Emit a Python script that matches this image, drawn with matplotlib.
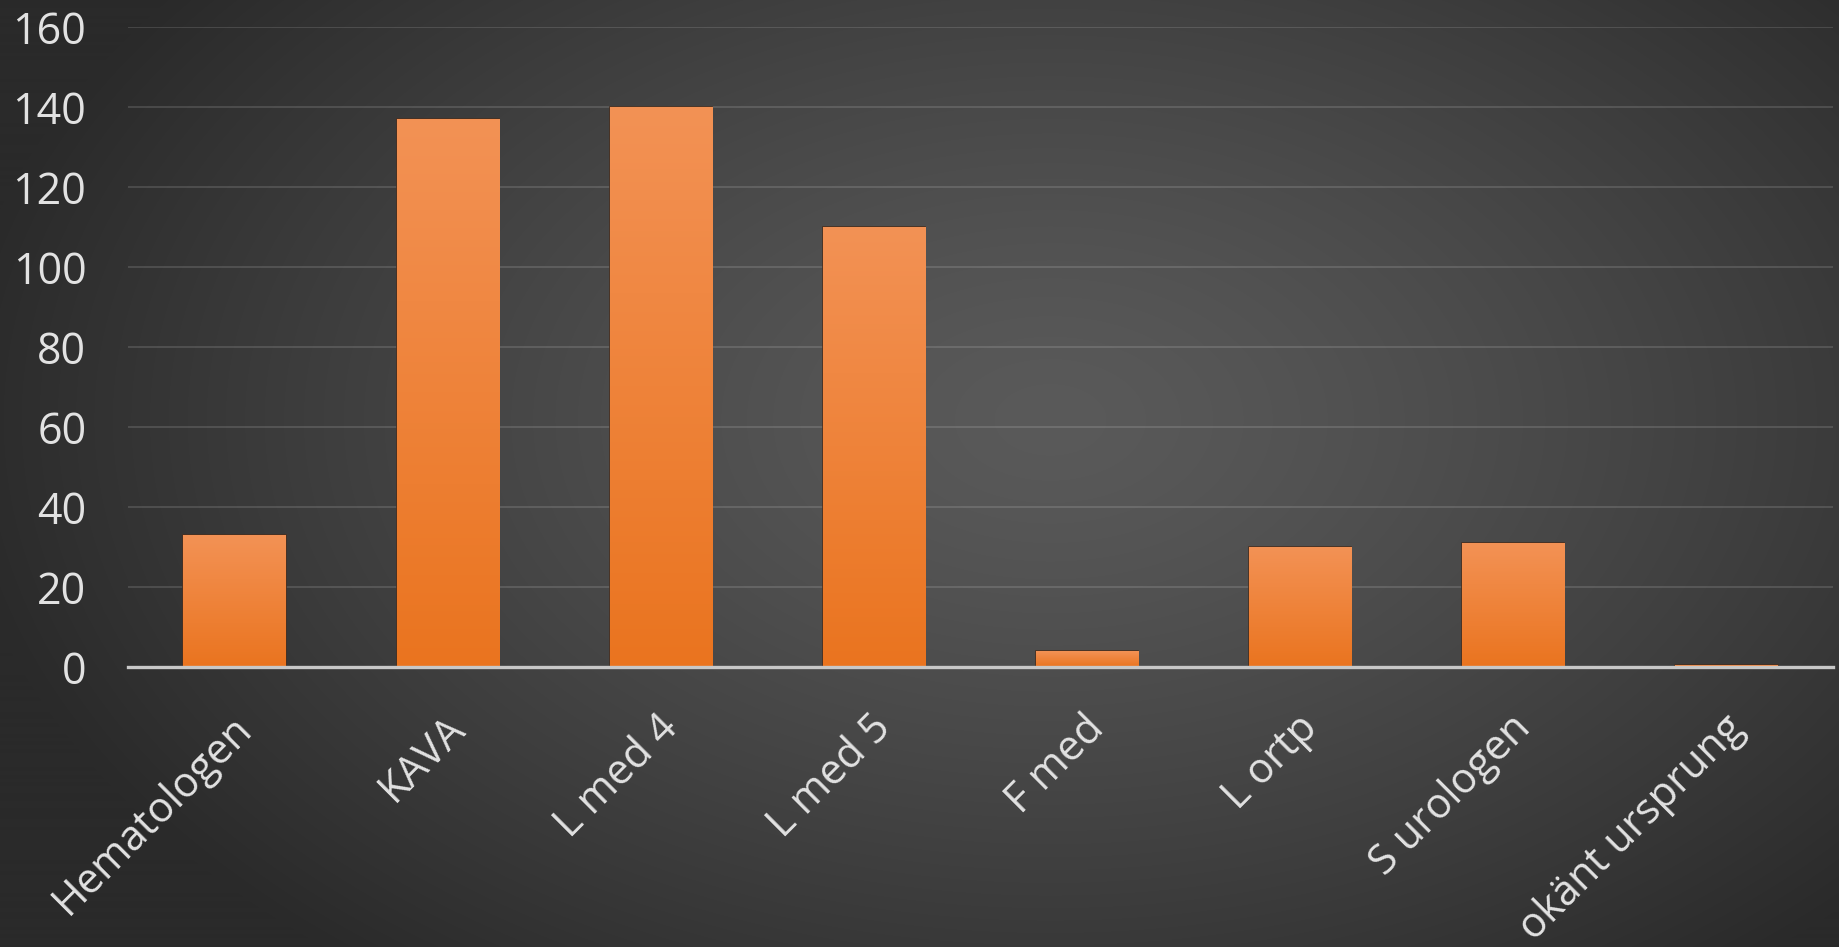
import numpy as np
import matplotlib
matplotlib.use("Agg")
import matplotlib.pyplot as plt
from matplotlib.transforms import ScaledTranslation

categories = ["Hematologen", "KAVA", "L med 4", "L med 5", "F med", "L ortp", "S urologen", "okänt ursprung"]
values = [33, 137, 140, 110, 4, 30, 31, 0.5]
yticks = [0, 20, 40, 60, 80, 100, 120, 140, 160]

plt.rcParams['font.family'] = ['Open Sans', 'DejaVu Sans']

W, H = 1840, 947
fig = plt.figure(figsize=(W / 100, H / 100), dpi=100)

# background radial gradient
bg = fig.add_axes([0, 0, 1, 1], zorder=-10)
yy, xx = np.mgrid[0:H, 0:W]
cx, cy = 1050, 420
r = np.sqrt(((xx - cx) / 1100.0) ** 2 + ((yy - cy) / 700.0) ** 2)
r = np.clip(r, 0, 1) ** 1.3
c_center, c_edge = 90 / 255, 42 / 255
g = c_center + (c_edge - c_center) * r
img = np.dstack([g, g, g])
bg.imshow(img, aspect='auto', extent=[0, 1, 0, 1], origin='upper')
bg.axis('off')

ax = fig.add_axes([128 / W, 1 - 667 / H, (1833 - 128) / W, (667 - 27) / H])
ax.set_facecolor('none')

x = np.arange(len(categories))
bars = ax.bar(x, values, width=0.48, color='#ef7b2a', edgecolor='#4a3020', linewidth=1.2, zorder=3)

# vertical gradient inside bars
grad = np.linspace(0, 1, 256).reshape(-1, 1)
top = np.array([0xf3, 0x92, 0x55]) / 255
bot = np.array([0xea, 0x74, 0x1f]) / 255
gimg = top[None, None, :] * (1 - grad[:, :, None]) + bot[None, None, :] * grad[:, :, None]
for b in bars:
    x0, y0 = b.get_x(), b.get_y()
    w, h = b.get_width(), b.get_height()
    im = ax.imshow(gimg, extent=[x0, x0 + w, y0, y0 + h], aspect='auto', origin='upper', zorder=3.5)
    im.set_clip_path(b)

ax.set_xlim(-0.5, len(categories) - 0.5)
ax.set_ylim(0, 160)
ax.set_yticks(yticks)
ax.set_yticklabels([str(v) for v in yticks])
ax.yaxis.grid(True, color='white', alpha=0.13, linewidth=1.5, zorder=0)
ax.set_axisbelow(True)

for s in ['top', 'right', 'left']:
    ax.spines[s].set_visible(False)
ax.spines['bottom'].set_color('#c8c8c8')
ax.spines['bottom'].set_linewidth(2.4)
ax.spines['bottom'].set_zorder(5)

ax.tick_params(axis='y', length=0, pad=30, labelsize=31, labelcolor='#e2e2e2')
ax.tick_params(axis='x', length=0, pad=29, labelsize=30, labelcolor='#e2e2e2')
ax.set_xticks(x)
ax.set_xticklabels(categories, rotation=45, ha='right', va='top')
for lab in ax.get_xticklabels():
    lab.set_transform(lab.get_transform() + ScaledTranslation(26 / 100, 0, fig.dpi_scale_trans))

fig.savefig('out.png', dpi=100)
